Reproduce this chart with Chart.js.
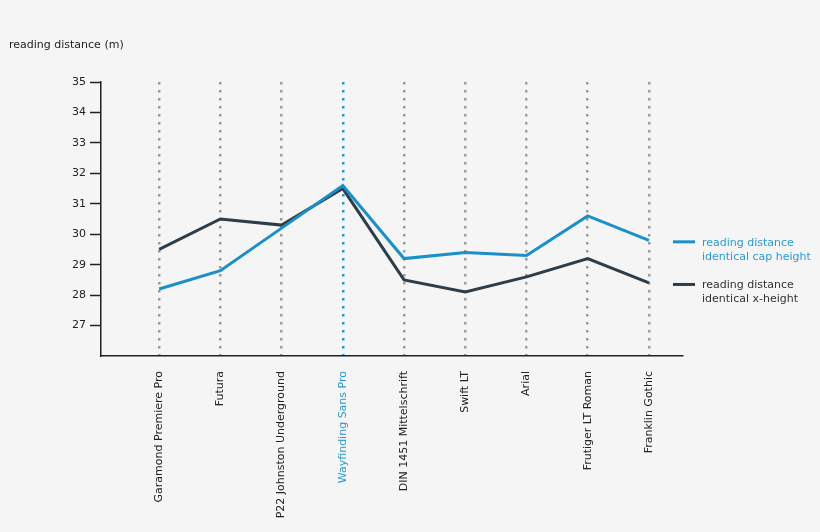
<!DOCTYPE html>
<html>
<head>
<meta charset="utf-8">
<script src="https://cdn.jsdelivr.net/npm/chart.js@4"></script>
<style>
  body { margin: 0; background: #f5f5f5; }
  #wrap { width: 820px; height: 532px; position: relative; }
</style>
</head>
<body>
<div id="wrap"><canvas id="chart"></canvas></div>
<script>
// fonts on the x axis
const fonts = [
  "Garamond Premiere Pro",
  "Futura",
  "P22 Johnston Underground",
  "Wayfinding Sans Pro",
  "DIN 1451 Mittelschrift",
  "Swift LT",
  "Arial",
  "Frutiger LT Roman",
  "Franklin Gothic",
];
// reading distance (m)
const capHeight = [28.2, 28.8, 30.2, 31.6, 29.2, 29.4, 29.3, 30.6, 29.8];
const xHeight = [29.5, 30.5, 30.3, 31.5, 28.5, 28.1, 28.6, 29.2, 28.4];
const yTicks = [27, 28, 29, 30, 31, 32, 33, 34, 35];
const legendCap = ["reading distance", "identical cap height"];
const legendX = ["reading distance", "identical x-height"];
const highlight = 3; // Wayfinding Sans Pro

const BLUE = "#1a8fc8";
const DARK = "#2d3d49";
const FONT = "'DejaVu Sans', sans-serif";

// y-axis title and two-line legend on the right
const extraText = {
  id: "extraText",
  afterDraw(chart) {
    const ctx = chart.ctx;
    const area = chart.chartArea;
    ctx.save();
    ctx.font = "11px " + FONT;
    ctx.textBaseline = "middle";
    ctx.textAlign = "left";
    ctx.fillStyle = "#222";
    ctx.fillText("reading distance (m)", 9, 45);

    chart.data.datasets.forEach((ds, i) => {
      const y = chart.scales.y.getPixelForValue(ds.legendAt);
      ctx.strokeStyle = ds.borderColor;
      ctx.lineWidth = 3;
      ctx.beginPath();
      ctx.moveTo(area.right - 9, y);
      ctx.lineTo(area.right + 13, y);
      ctx.stroke();
      ctx.fillStyle = ds.legendColor;
      ds.legendLines.forEach((line, j) => {
        ctx.fillText(line, area.right + 20, y + 1 + j * 14);
      });
    });
    ctx.restore();
  },
};

new Chart(document.getElementById("chart"), {
  type: "line",
  data: {
    datasets: [
      {
        label: legendCap.join(" "),
        legendLines: legendCap,
        legendColor: "#2a9bd0",
        legendAt: 29.75,
        data: capHeight.map((v, i) => ({ x: i, y: v })),
        borderColor: BLUE,
        borderWidth: 3,
        pointRadius: 0,
        tension: 0,
      },
      {
        label: legendX.join(" "),
        legendLines: legendX,
        legendColor: "#333",
        legendAt: 28.35,
        data: xHeight.map((v, i) => ({ x: i, y: v })),
        borderColor: DARK,
        borderWidth: 3,
        pointRadius: 0,
        tension: 0,
      },
    ],
  },
  options: {
    responsive: true,
    maintainAspectRatio: false,
    animation: false,
    layout: { padding: { top: 82, right: 138, left: 0, bottom: 0 } },
    plugins: {
      legend: { display: false },
      tooltip: { enabled: false },
    },
    scales: {
      x: {
        type: "linear",
        min: -0.95,
        max: 8.54,
        afterBuildTicks(scale) {
          scale.ticks = fonts.map((f, i) => ({ value: i }));
        },
        afterFit(scale) {
          scale.height = 176;
        },
        ticks: {
          autoSkip: false,
          minRotation: 90,
          maxRotation: 90,
          padding: 15,
          font: { family: FONT, size: 11 },
          color: (c) => (c.index === highlight ? "#2a9bd0" : "#222"),
          callback: (v) => fonts[v],
        },
        grid: {
          drawTicks: false,
          lineWidth: 2.5,
          color: (c) => (c.index === highlight ? "#2a95cc" : "#9a9a9a"),
        },
        border: { display: true, color: "#222", width: 1.5, dash: [2.5, 5.5] },
      },
      y: {
        min: 26,
        max: 35,
        afterBuildTicks(scale) {
          scale.ticks = yTicks.map((v) => ({ value: v }));
        },
        afterFit(scale) {
          scale.width = 101;
        },
        ticks: {
          padding: 4,
          font: { family: FONT, size: 11 },
          color: "#222",
        },
        grid: {
          drawOnChartArea: false,
          drawTicks: true,
          tickLength: 11,
          tickColor: "#222",
          tickWidth: 1.5,
        },
        border: { display: true, color: "#222", width: 1.5 },
      },
    },
  },
  plugins: [extraText],
});
</script>
</body>
</html>
